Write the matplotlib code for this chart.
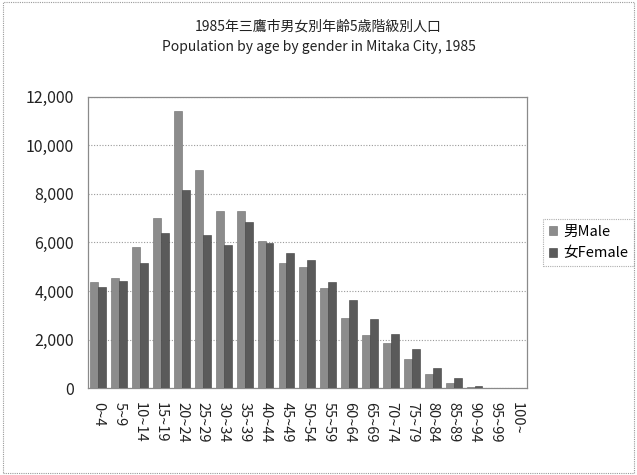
import numpy as np
import matplotlib.pyplot as plt
from matplotlib.patches import Rectangle
from matplotlib.ticker import FuncFormatter

plt.rcParams['font.family'] = ['Noto Sans CJK JP', 'DejaVu Sans']

# 1985 Mitaka City population by 5-year age group
age_groups = ['0~4', '5~9', '10~14', '15~19', '20~24', '25~29', '30~34', '35~39',
              '40~44', '45~49', '50~54', '55~59', '60~64', '65~69', '70~74', '75~79',
              '80~84', '85~89', '90~94', '95~99', '100~']
male = [4390, 4550, 5820, 7000, 11410, 8980, 7300, 7300, 6080, 5160, 5010, 4120,
        2890, 2180, 1870, 1210, 600, 210, 70, 15, 2]
female = [4180, 4430, 5170, 6380, 8180, 6320, 5880, 6860, 5980, 5560, 5270, 4390,
          3620, 2850, 2250, 1620, 820, 430, 110, 25, 5]

fig = plt.figure(figsize=(6.37, 4.75), dpi=100)
ax = fig.add_axes([0.138, 0.1825, 0.689, 0.614])

x = np.arange(len(age_groups))
w = 0.38
ax.bar(x - w / 2, male, w, color='#8c8c8c', edgecolor='#6a6a6a', linewidth=0.4,
       label='男Male', zorder=3)
ax.bar(x + w / 2, female, w, color='#5a5a5a', edgecolor='#3e3e3e', linewidth=0.4,
       label='女Female', zorder=3)

ax.set_xlim(-0.5, len(age_groups) - 0.5)
ax.set_ylim(0, 12000)
ax.set_yticks(range(0, 12001, 2000))
ax.yaxis.set_major_formatter(FuncFormatter(lambda v, p: f'{int(v):,}'))
ax.yaxis.grid(True, linestyle=(0, (1, 1.5)), color='#9a9a9a', linewidth=0.8, zorder=0)
ax.tick_params(axis='y', length=0, pad=10, labelsize=11.5, labelcolor='#222222')
ax.set_xticks(x)
ax.set_xticklabels(age_groups, rotation=-90, fontsize=10.5, color='#222222')
ax.tick_params(axis='x', length=0, pad=10)
for s in ax.spines.values():
    s.set_color('#8a8a8a')
    s.set_linewidth(0.9)

fig.text(0.5, 0.945, '1985年三鷹市男女別年齢5歳階級別人口', ha='center', va='center',
         fontsize=10, color='#222222')
fig.text(0.5, 0.900, 'Population by age by gender in Mitaka City, 1985', ha='center',
         va='center', fontsize=10, color='#222222')

leg = ax.legend(loc='center left', bbox_to_anchor=(1.02, 0.5), fontsize=10.5,
                handlelength=0.6, handleheight=0.6, handletextpad=0.4,
                borderpad=0.4, labelspacing=0.55, frameon=True, fancybox=False)
leg.get_frame().set_edgecolor('#9a9a9a')
leg.get_frame().set_linestyle((0, (1, 1)))
leg.get_frame().set_linewidth(0.8)

# dotted border around the whole figure
fig.patches.append(Rectangle((0.004, 0.004), 0.992, 0.992, transform=fig.transFigure,
                             fill=False, edgecolor='#9a9a9a', linewidth=0.8,
                             linestyle=(0, (1, 1))))

fig.savefig('out.png', dpi=100)
